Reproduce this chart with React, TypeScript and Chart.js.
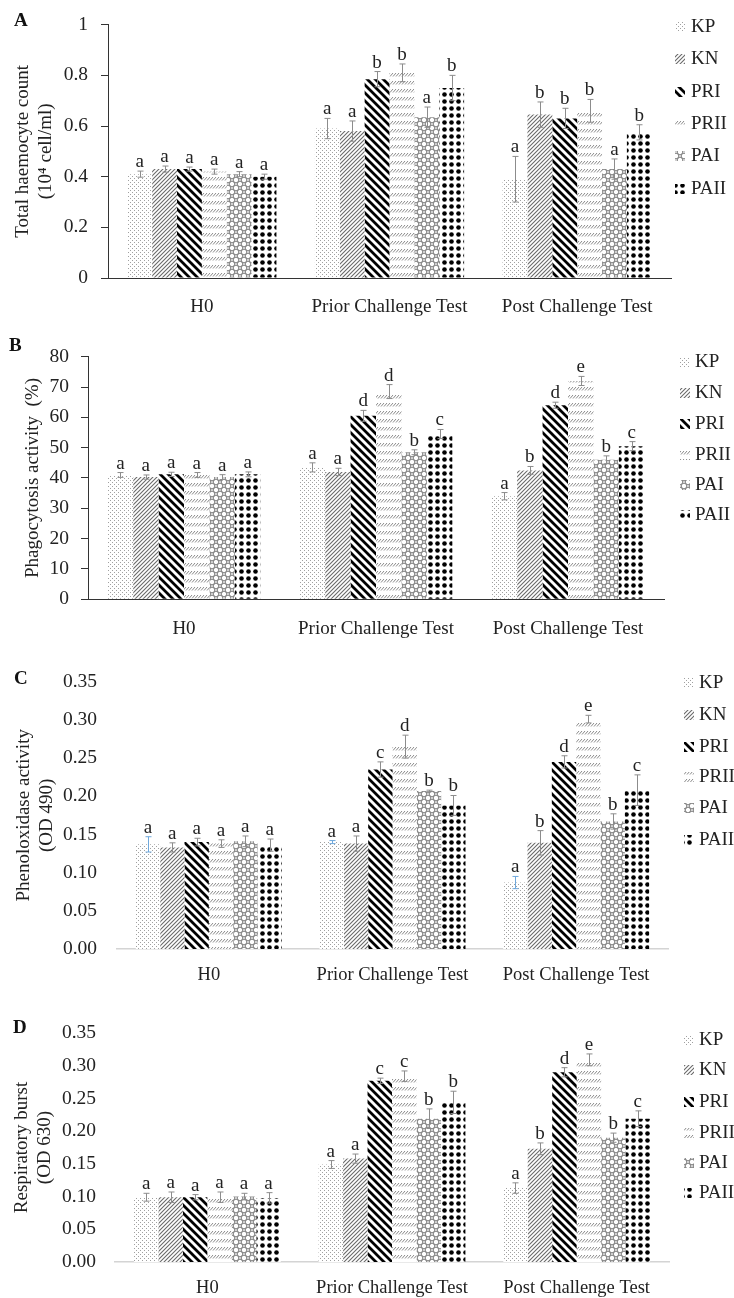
import React, { useEffect, useRef } from 'react';
import { Chart, registerables } from 'chart.js';

Chart.register(...registerables);

const FONT = '"Liberation Serif", "Times New Roman", serif';

const categories = ['H0', 'Prior Challenge Test', 'Post Challenge Test'];
const treatments = ['KP', 'KN', 'PRI', 'PRII', 'PAI', 'PAII'];

// Panel A: Total haemocyte count
const thcTicks = [0, 0.2, 0.4, 0.6, 0.8, 1];
const thcMeans = [
  [0.41, 0.59, 0.39],
  [0.43, 0.58, 0.645],
  [0.43, 0.785, 0.63],
  [0.42, 0.81, 0.66],
  [0.41, 0.635, 0.43],
  [0.4, 0.75, 0.575],
];
const thcErrors = [
  [0.012, 0.04, 0.09],
  [0.012, 0.04, 0.05],
  [0.008, 0.03, 0.04],
  [0.01, 0.035, 0.045],
  [0.01, 0.04, 0.04],
  [0.01, 0.05, 0.03],
];
const thcLetters = [
  ['a', 'a', 'a'],
  ['a', 'a', 'b'],
  ['a', 'b', 'b'],
  ['a', 'b', 'b'],
  ['a', 'a', 'a'],
  ['a', 'b', 'b'],
];

// Panel B: Phagocytosis activity
const phaTicks = [0, 10, 20, 30, 40, 50, 60, 70, 80];
const phaMeans = [
  [41, 43.5, 34],
  [40.3, 42, 42.5],
  [41.2, 60.5, 64],
  [41, 68.5, 72],
  [40.3, 48.5, 46],
  [41.2, 54.5, 50.5],
];
const phaErrors = [
  [0.8, 1.5, 1.2],
  [0.7, 1.2, 1.3],
  [0.7, 1.8, 1.0],
  [0.8, 2.3, 1.5],
  [0.8, 0.8, 1.3],
  [0.8, 1.5, 1.5],
];
const phaLetters = [
  ['a', 'a', 'a'],
  ['a', 'a', 'b'],
  ['a', 'd', 'd'],
  ['a', 'd', 'e'],
  ['a', 'b', 'b'],
  ['a', 'c', 'c'],
];

// Panel C: Phenoloxidase activity
const poTicks = [0, 0.05, 0.1, 0.15, 0.2, 0.25, 0.3, 0.35];
const poMeans = [
  [0.137, 0.14, 0.087],
  [0.133, 0.138, 0.139],
  [0.14, 0.235, 0.245],
  [0.138, 0.265, 0.301],
  [0.141, 0.207, 0.167],
  [0.136, 0.188, 0.208],
];
const poErrors = [
  [0.01, 0.002, 0.008],
  [0.006, 0.01, 0.016],
  [0.005, 0.01, 0.008],
  [0.005, 0.015, 0.005],
  [0.007, 0.001, 0.01],
  [0.008, 0.013, 0.02],
];
const poLetters = [
  ['a', 'a', 'a'],
  ['a', 'a', 'b'],
  ['a', 'c', 'd'],
  ['a', 'd', 'e'],
  ['a', 'b', 'b'],
  ['a', 'b', 'c'],
];

// Panel D: Respiratory burst
const rbTicks = [0, 0.05, 0.1, 0.15, 0.2, 0.25, 0.3, 0.35];
const rbMeans = [
  [0.099, 0.149, 0.113],
  [0.099, 0.158, 0.173],
  [0.099, 0.277, 0.29],
  [0.099, 0.284, 0.309],
  [0.1, 0.219, 0.19],
  [0.098, 0.244, 0.219],
];
const rbErrors = [
  [0.006, 0.006, 0.008],
  [0.008, 0.007, 0.009],
  [0.004, 0.004, 0.007],
  [0.008, 0.008, 0.009],
  [0.005, 0.015, 0.007],
  [0.008, 0.017, 0.012],
];
const rbLetters = [
  ['a', 'a', 'a'],
  ['a', 'a', 'b'],
  ['a', 'c', 'd'],
  ['a', 'c', 'e'],
  ['a', 'b', 'b'],
  ['a', 'b', 'c'],
];

type PanelCfg = {
  id: string;
  top: number;
  height: number;
  area: { left: number; right: number; top: number; bottom: number };
  boxed: boolean;
  ticks: number[];
  decimals: number;
  title: string | string[];
  titlePad: number;
  tickFont: number;
  tickPad: number;
  catFont: number;
  catPad: number;
  means: number[][];
  errors: number[][];
  letters: string[][];
  kpErrColor?: string;
  legend: { swatchX: number; textX: number; rows: number[] };
  label: { x: number; y: number };
};

const panels: PanelCfg[] = [
  {
    id: 'A', top: 0, height: 330,
    area: { left: 108, right: 671, top: 22.7, bottom: 278 },
    boxed: true, ticks: thcTicks, decimals: -1,
    title: ['Total haemocyte count', '(10\u2074 cell/ml)'], titlePad: 12,
    tickFont: 19.5, tickPad: 13, catFont: 19, catPad: 18,
    means: thcMeans, errors: thcErrors, letters: thcLetters,
    legend: { swatchX: 675, textX: 691, rows: [27, 59, 92, 124, 156, 189] },
    label: { x: 22, y: 20 },
  },
  {
    id: 'B', top: 330, height: 320,
    area: { left: 88, right: 664, top: 356.7, bottom: 599.3 },
    boxed: true, ticks: phaTicks, decimals: 0,
    title: 'Phagocytosis activity  (%)', titlePad: 22,
    tickFont: 19.5, tickPad: 12, catFont: 19, catPad: 18,
    means: phaMeans, errors: phaErrors, letters: phaLetters,
    legend: { swatchX: 680, textX: 695, rows: [362, 393, 424, 455, 485, 515] },
    label: { x: 17, y: 345 },
  },
  {
    id: 'C', top: 650, height: 340,
    area: { left: 117, right: 668, top: 675, bottom: 949 },
    boxed: false, ticks: poTicks, decimals: 2,
    title: ['Phenoloxidase activity', '(OD 490)'], titlePad: 13,
    tickFont: 19.5, tickPad: 20, catFont: 18.5, catPad: 15,
    means: poMeans, errors: poErrors, letters: poLetters, kpErrColor: '#6fa8dc',
    legend: { swatchX: 684, textX: 699, rows: [683, 715, 747, 777, 808, 840] },
    label: { x: 22, y: 678 },
  },
  {
    id: 'D', top: 990, height: 308,
    area: { left: 115, right: 669, top: 1033, bottom: 1262 },
    boxed: false, ticks: rbTicks, decimals: 2,
    title: ['Respiratory burst', '(OD 630)'], titlePad: 11,
    tickFont: 19.5, tickPad: 19, catFont: 18.5, catPad: 15,
    means: rbMeans, errors: rbErrors, letters: rbLetters,
    legend: { swatchX: 684, textX: 699, rows: [1040, 1070, 1102, 1133, 1163, 1193] },
    label: { x: 21, y: 1027 },
  },
];

function makePattern(kind: string): CanvasPattern | string {
  const c = document.createElement('canvas');
  let w = 8, h = 8;
  if (kind === 'KP' || kind === 'KN') { w = 4; h = 4; }
  if (kind === 'PRI') { w = 8; h = 8; }
  if (kind === 'PRII') { w = 3; h = 8; }
  if (kind === 'PAII') { w = 7; h = 7; }
  c.width = w; c.height = h;
  const ctx = c.getContext('2d');
  if (!ctx) return '#999';
  ctx.fillStyle = '#fff';
  ctx.fillRect(0, 0, w, h);
  if (kind === 'KP') {
    ctx.fillStyle = '#a0a0a0';
    ctx.fillRect(0, 0, 1, 1);
    ctx.fillRect(2, 2, 1, 1);
  } else if (kind === 'KN') {
    ctx.strokeStyle = '#6a6a6a';
    ctx.lineWidth = 1.1;
    ctx.beginPath();
    ctx.moveTo(0, 4); ctx.lineTo(4, 0);
    ctx.moveTo(-1, 1); ctx.lineTo(1, -1);
    ctx.moveTo(3, 5); ctx.lineTo(5, 3);
    ctx.stroke();
  } else if (kind === 'PRI') {
    ctx.strokeStyle = '#000';
    ctx.lineWidth = 2.8;
    ctx.beginPath();
    ctx.moveTo(-1, -1); ctx.lineTo(9, 9);
    ctx.moveTo(-5, 3); ctx.lineTo(5, 13);
    ctx.moveTo(3, -5); ctx.lineTo(13, 5);
    ctx.stroke();
  } else if (kind === 'PRII') {
    ctx.strokeStyle = '#8a8a8a';
    ctx.lineWidth = 1;
    ctx.beginPath();
    for (const x of [-3, 0, 3]) {
      ctx.moveTo(x, 4.5); ctx.lineTo(x + 3, 1);
    }
    ctx.stroke();
  } else if (kind === 'PAI') {
    ctx.strokeStyle = '#888';
    ctx.lineWidth = 1.1;
    for (const [cx, cy] of [[0, 0], [8, 0], [0, 8], [8, 8], [4, 4]]) {
      ctx.beginPath();
      ctx.arc(cx, cy, 2.8, 0, Math.PI * 2);
      ctx.stroke();
    }
  } else if (kind === 'PAII') {
    ctx.fillStyle = '#000';
    ctx.beginPath();
    ctx.arc(3.5, 3.5, 2.3, 0, Math.PI * 2);
    ctx.fill();
  }
  const p = ctx.createPattern(c, 'repeat');
  return p || '#999';
}

function fmt(v: number, decimals: number): string {
  if (decimals < 0) return String(Number(v.toFixed(1)));
  return v.toFixed(decimals);
}

function Panel({ cfg }: { cfg: PanelCfg }) {
  const ref = useRef<HTMLCanvasElement | null>(null);
  useEffect(() => {
    const canvas = ref.current;
    if (!canvas) return;
    const patterns = treatments.map((t) => makePattern(t));
    const a = cfg.area;
    const areaTop = a.top - cfg.top;
    const areaBottom = a.bottom - cfg.top;
    const xHeight = cfg.height - areaBottom;

    const overlay = {
      id: 'overlay' + cfg.id,
      afterDatasetsDraw(chart: any) {
        const ctx: CanvasRenderingContext2D = chart.ctx;
        const ys = chart.scales.y;
        ctx.save();
        cfg.means.forEach((series, i) => {
          const meta = chart.getDatasetMeta(i);
          series.forEach((v, j) => {
            const el = meta.data[j];
            const e = cfg.errors[i][j];
            const x = Math.round(el.x) + 0.5;
            const yt = ys.getPixelForValue(v + e);
            const yb = ys.getPixelForValue(v - e);
            ctx.strokeStyle = cfg.kpErrColor && i === 0 ? cfg.kpErrColor : '#8c8c8c';
            ctx.lineWidth = 1;
            ctx.beginPath();
            ctx.moveTo(x, yt); ctx.lineTo(x, yb);
            ctx.moveTo(x - 3, yt); ctx.lineTo(x + 3, yt);
            ctx.moveTo(x - 3, yb); ctx.lineTo(x + 3, yb);
            ctx.stroke();
            ctx.fillStyle = '#222';
            ctx.font = `19px ${FONT}`;
            ctx.textAlign = 'center';
            ctx.textBaseline = 'alphabetic';
            ctx.fillText(cfg.letters[i][j], el.x, yt - 4);
          });
        });
        // legend
        treatments.forEach((t, i) => {
          const ry = cfg.legend.rows[i] - cfg.top;
          ctx.fillStyle = patterns[i] as any;
          ctx.fillRect(cfg.legend.swatchX, ry - 5, 10, 10);
          ctx.fillStyle = '#222';
          ctx.font = `19px ${FONT}`;
          ctx.textAlign = 'left';
          ctx.textBaseline = 'middle';
          ctx.fillText(t, cfg.legend.textX, ry);
        });
        ctx.restore();
      },
    };

    const chart = new Chart(canvas, {
      type: 'bar',
      data: {
        labels: categories,
        datasets: treatments.map((t, i) => ({
          label: t,
          data: cfg.means[i],
          backgroundColor: patterns[i] as any,
          borderWidth: 0,
          categoryPercentage: 0.795,
          barPercentage: 1,
        })),
      },
      options: {
        responsive: false,
        animation: false,
        devicePixelRatio: 1,
        events: [],
        layout: { padding: { left: 0, right: 734 - a.right, top: areaTop, bottom: 0 } },
        plugins: { legend: { display: false }, tooltip: { enabled: false } },
        scales: {
          x: {
            grid: { display: false, drawTicks: false, tickLength: 0 },
            border: { display: true, color: cfg.boxed ? '#333' : '#d4d4d4', width: cfg.boxed ? 1 : 1.5 },
            ticks: {
              color: '#222',
              font: { family: FONT, size: cfg.catFont },
              padding: cfg.catPad,
              maxRotation: 0,
              autoSkip: false,
            },
            afterFit: (s: any) => { s.height = xHeight; },
          },
          y: {
            min: cfg.ticks[0],
            max: cfg.ticks[cfg.ticks.length - 1],
            afterBuildTicks: (s: any) => { s.ticks = cfg.ticks.map((v) => ({ value: v })); },
            ticks: {
              color: '#222',
              font: { family: FONT, size: cfg.tickFont },
              padding: cfg.tickPad,
              callback: (v: any) => fmt(Number(v), cfg.decimals),
            },
            grid: cfg.boxed
              ? { display: true, drawOnChartArea: false, drawTicks: true, tickLength: 7, color: '#333' }
              : { display: false, drawTicks: false, tickLength: 0 },
            border: { display: cfg.boxed, color: '#333', width: 1 },
            title: {
              display: true,
              text: cfg.title,
              color: '#222',
              font: { family: FONT, size: 19 },
              padding: { top: cfg.titlePad, bottom: 0 },
            },
            afterFit: (s: any) => { s.width = a.left; },
          },
        },
      },
      plugins: [overlay],
    } as any);
    return () => chart.destroy();
  }, [cfg]);

  return (
    <>
      <canvas
        ref={ref}
        width={734}
        height={cfg.height}
        style={{ position: 'absolute', left: 0, top: cfg.top, width: 734, height: cfg.height }}
      />
      <div
        style={{
          position: 'absolute',
          left: cfg.label.x - 8,
          top: cfg.label.y - 10,
          fontFamily: FONT,
          fontWeight: 'bold',
          fontSize: 19,
          lineHeight: '20px',
          color: '#111',
        }}
      >
        {cfg.id}
      </div>
    </>
  );
}

export default function App() {
  return (
    <div style={{ position: 'absolute', left: 0, top: 0, width: 734, height: 1298, background: '#fff' }}>
      {panels.map((p) => (
        <Panel key={p.id} cfg={p} />
      ))}
    </div>
  );
}
